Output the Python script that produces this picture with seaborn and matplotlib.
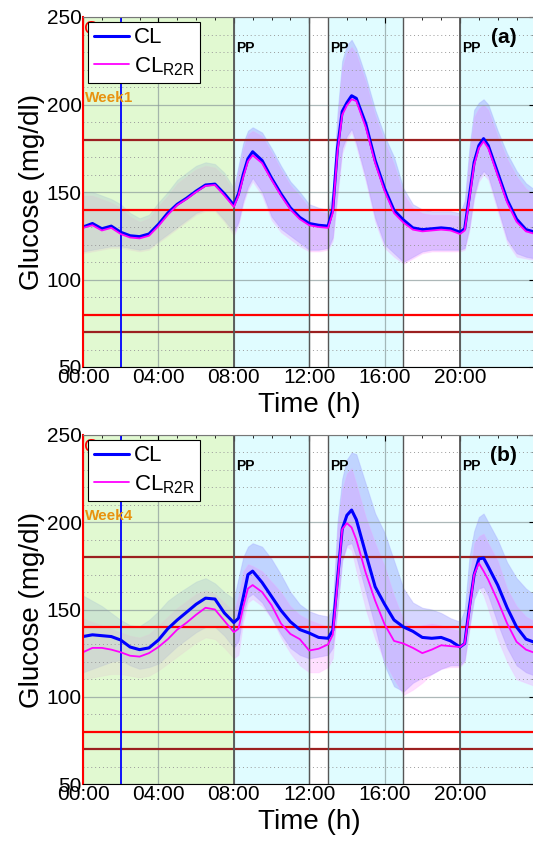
import numpy as np
import pandas as pd
import matplotlib
matplotlib.use("Agg")
import matplotlib.pyplot as plt
from matplotlib.ticker import MultipleLocator, FixedLocator
import seaborn as sns

# time grid (h)
t = [0, 0.5, 1, 1.5, 2, 2.5, 3, 3.5, 4, 4.5, 5, 5.5, 6, 6.5, 7, 7.5, 8,
     8.25, 8.5, 8.75, 9, 9.5, 10, 10.5, 11, 11.5, 12, 12.5, 13,
     13.25, 13.5, 13.75, 14, 14.25, 14.5, 15, 15.5, 16, 16.5, 17, 17.5,
     18, 18.5, 19, 19.5, 20, 20.25, 20.5, 20.75, 21, 21.25, 21.5,
     22, 22.5, 23, 23.5, 24]

# ---- panel (a) Week1 ----
a_cl = [130, 132, 129, 130.5, 127, 125, 124.5, 126, 131.5, 138, 143, 146.5, 150.5, 154, 154.5, 149, 142.5,
        149, 160, 169, 173, 168, 158, 149, 141, 135.5, 132, 131, 130.5,
        140, 175, 196, 201, 205, 203.5, 189, 168, 152, 139.5, 134, 129.5,
        128.5, 129, 129.5, 129, 127, 129, 148, 167, 176.5, 180.5, 176.5,
        161, 145.5, 134.5, 128.5, 127]
a_r2r = [129.5, 131, 128, 129.5, 126, 124, 123.5, 125, 130.5, 137, 142.5, 146, 150, 153.5, 154, 148, 141.5,
         148, 158.5, 167.5, 171, 166.5, 157, 148, 140, 134.5, 131, 130, 129.5,
         138, 173, 194, 199.5, 203, 202, 187, 166.5, 150.5, 138, 132.5, 128.5,
         127.5, 128, 128.5, 128, 126, 128, 146, 165.5, 175, 179, 175,
         159.5, 144, 133, 127.5, 126]
a_cl_hi = [150, 150, 148, 146, 143, 138, 135, 137, 144, 150, 157, 161, 165, 167, 166, 161, 152,
           165, 178, 185, 187, 184, 175, 165, 156, 150, 143, 141, 140,
           150, 195, 225, 234, 237, 232, 216, 197, 182, 170, 152, 143,
           140, 139, 139, 139, 138, 145, 175, 197, 201, 203, 200,
           185, 172, 162, 155, 151]
a_cl_lo = [116, 117, 118, 119, 119, 118, 117, 118, 122, 126, 130, 134, 138, 140, 140, 134, 127,
           133, 145, 153, 158, 150, 136, 129, 125, 121, 117, 117, 118,
           124, 150, 175, 182, 186, 178, 158, 135, 120, 115, 110, 113,
           116, 117, 117, 117, 117, 118, 130, 148, 158, 162, 159,
           141, 123, 115, 113, 112]
a_r2r_hi = [148, 148, 146, 144, 141, 136, 133, 135, 142, 148, 155, 159, 163, 165, 164, 159, 150,
            162, 175, 183, 185, 182, 173, 163, 154, 148, 141, 139, 138,
            147, 190, 221, 230, 233, 229, 213, 194, 179, 166, 149, 141,
            138, 137, 137, 137, 136, 142, 171, 193, 198, 200, 197,
            182, 169, 159, 152, 148]
a_r2r_lo = [115, 116, 117, 118, 118, 117, 116, 117, 121, 125, 129, 133, 137, 139, 139, 133, 125,
            131, 143, 151, 156, 148, 134, 127, 123, 119, 116, 116, 117,
            122, 147, 172, 180, 184, 176, 156, 133, 118, 113, 109, 112,
            115, 116, 116, 116, 116, 117, 128, 146, 156, 160, 157,
            139, 121, 113, 112, 111]

# ---- panel (b) Week4 ----
b_cl = [134.5, 135.5, 135, 134.5, 132.5, 128.5, 127, 128, 132.5, 139, 144, 148.5, 153, 156.5, 156, 148, 142.5,
        145, 157, 170, 172, 165.5, 157.5, 149.5, 143, 138.5, 136.5, 134, 133.5,
        138, 167, 196, 204, 207, 201.5, 182, 163, 153, 144, 140, 137.5,
        134, 133.5, 134, 132, 128.5, 130.5, 151.5, 170, 179, 179.5, 174.5,
        164, 151, 140, 133, 131]
b_r2r = [125.5, 128, 128, 127, 125.5, 123.5, 123, 125, 128.5, 133, 138.5, 142.5, 147, 151, 150, 143.5, 137,
         139, 151.5, 162, 164, 160, 152.5, 142, 136, 133, 126.5, 127.5, 130,
         135.5, 165, 196, 199.5, 197, 190, 171, 155, 141.5, 132, 130.5, 128,
         125, 127, 129.5, 129, 128.5, 130.5, 149.5, 170, 176.5, 172, 167,
         155, 142, 131.5, 127, 125]
b_cl_hi = [158, 155, 152, 148, 144, 141, 140.5, 144, 149, 155, 159, 162.5, 166, 168, 165, 160, 156,
           168, 180, 186, 188, 186, 179, 170, 160, 153, 149, 147, 146,
           151, 200, 225, 236, 240, 239, 222, 205, 194, 178, 162, 154,
           151, 150, 148, 145, 143, 150, 180, 195, 203, 205, 200,
           190, 177, 168, 162, 158]
b_cl_lo = [114, 116, 118, 120, 121, 118, 116, 117, 119, 124, 129, 133, 137, 140, 140, 135, 128,
           132, 148, 157, 159, 154, 145, 136, 128, 124, 122, 123, 124,
           128, 150, 178, 187, 188, 180, 160, 140, 118, 106, 103, 108,
           111, 113, 116, 118, 118, 121, 140, 156, 162, 163, 158,
           142, 128, 118, 114, 112]
b_r2r_hi = [145, 143, 141, 139, 137, 135, 134, 136, 141, 146, 151, 155, 159, 161, 159, 154, 149,
            158, 172, 176, 175, 172, 166, 160, 152, 147, 144, 142, 140,
            150, 196, 219, 228, 231, 222, 203, 188, 175, 158, 144, 140,
            141, 142, 141, 139, 138, 142, 168, 188, 192, 193.5, 188,
            178, 162, 152, 146, 143]
b_r2r_lo = [110, 111, 112, 113, 113, 112, 111, 112, 115, 119, 123, 127, 131, 134, 133, 128, 122,
            124, 143, 154, 156, 152, 145, 134, 125, 118, 114, 114, 117,
            122, 150, 178, 186, 184, 172, 150, 133, 120, 110, 101, 104,
            108, 113, 116, 117, 117, 120, 138, 158, 163, 158, 150,
            133, 120, 110, 108, 106]

hour_ticks = [0, 4, 8, 12, 16, 20]
hour_labels = ['00:00', '04:00', '08:00', '12:00', '16:00', '20:00']
pp_hours = [8.1, 13.1, 20.1]
meal_lines = [8, 12, 13, 17, 20]

sns.set_style('white')
plt.rcParams['font.family'] = ['Liberation Sans', 'DejaVu Sans']
plt.rcParams['mathtext.default'] = 'regular'
plt.rcParams['text.color'] = 'black'
plt.rcParams['axes.labelcolor'] = 'black'
plt.rcParams['xtick.color'] = 'black'
plt.rcParams['ytick.color'] = 'black'

fig = plt.figure(figsize=(5.33, 8.42), dpi=100)
W = 452.4 / 533
ax_a = fig.add_axes([83 / 533, 1 - 367 / 842, W, 350 / 842])
ax_b = fig.add_axes([83 / 533, 1 - 784 / 842, W, 349 / 842])


def draw_panel(ax, cl, r2r, cl_lo, cl_hi, r2r_lo, r2r_hi, week, tag):
    # background periods
    ax.axvspan(8, 12, color='#e0fcff', lw=0, zorder=0)
    ax.axvspan(13, 17, color='#e0fcff', lw=0, zorder=0)
    ax.axvspan(20, 24, color='#e0fcff', lw=0, zorder=0)

    # spread bands
    ax.fill_between(t, cl_lo, cl_hi, color='#7878ff', alpha=0.3, lw=0.8,
                    edgecolor='#a0a0ff', zorder=1)
    ax.fill_between(t, r2r_lo, r2r_hi, color='#ff50ff', alpha=0.18, lw=0.8,
                    edgecolor='#ffa0ff', zorder=1.1)
    # night
    ax.axvspan(0, 8, color='#c5f5a5', alpha=0.5, lw=0, zorder=1.5)

    # thresholds
    for y, c in [(180, '#9b2020'), (70, '#9b2020'), (140, '#ff0000'), (80, '#ff0000')]:
        ax.axhline(y, color=c, lw=1.6, zorder=2.6)
    for x in meal_lines:
        ax.axvline(x, color='#555555', lw=1.3 if x in (8, 20) else 1.0, zorder=2.6)
    ax.axvline(2, color='#0000ff', lw=1.3, zorder=2.7)

    df = pd.DataFrame({'t': t, 'cl': cl, 'r2r': r2r})
    sns.lineplot(data=df, x='t', y='cl', color='#0000ff', lw=2.2, ax=ax,
                 label='CL', zorder=3)
    sns.lineplot(data=df, x='t', y='r2r', color='#ff00ff', lw=1.3, ax=ax,
                 label='$CL_{R2R}$', zorder=3.1)

    ax.set_xlim(0, 24)
    ax.set_ylim(50, 250)
    ax.xaxis.set_major_locator(FixedLocator(hour_ticks))
    ax.set_xticklabels(hour_labels)
    ax.xaxis.set_minor_locator(MultipleLocator(1))
    ax.yaxis.set_major_locator(MultipleLocator(50))
    ax.yaxis.set_minor_locator(MultipleLocator(10))
    ax.set_axisbelow(False)
    ax.grid(which='major', color='#8a9a9a', lw=0.9, alpha=0.7)
    ax.grid(which='minor', axis='y', color='#999999', lw=0.7, ls=(0, (1, 3)))
    ax.tick_params(which='both', direction='in', top=True, right=True,
                   labelsize=15, pad=1)
    ax.tick_params(which='major', length=4)
    ax.tick_params(which='minor', length=2.5)
    for s in ax.spines.values():
        s.set_zorder(4)
    ax.spines['left'].set_color('#ff0000')
    ax.spines['left'].set_linewidth(1.5)
    ax.spines['bottom'].set_color('black')
    ax.spines['top'].set_color('#777777')

    ax.set_xlabel('Time (h)', fontsize=20, labelpad=3)
    ax.set_ylabel('Glucose (mg/dl)', fontsize=20, labelpad=1)

    ax.text(0.05, 243, 'C', color='#ff0000', fontsize=14, va='center', zorder=4)
    ax.text(0.08, 203.5, week, color='#e8920f', fontsize=11, fontweight='bold',
            va='center', zorder=4)
    for h in pp_hours:
        ax.text(h, 232.5, 'PP', fontsize=10, fontweight='bold', va='center', zorder=4)
    ax.text(22.33, 238.5, tag, fontsize=15, fontweight='bold', ha='center',
            va='center', zorder=4)

    leg = ax.legend(loc='upper left', bbox_to_anchor=(0.011, 0.986), borderaxespad=0,
                    fontsize=16, frameon=True, fancybox=False, framealpha=1,
                    edgecolor='black', handlelength=1.6, handletextpad=0.2,
                    borderpad=0.25, labelspacing=0.3)
    leg.get_frame().set_linewidth(0.8)
    leg.set_zorder(5)


draw_panel(ax_a, a_cl, a_r2r, a_cl_lo, a_cl_hi, a_r2r_lo, a_r2r_hi, 'Week1', '(a)')
draw_panel(ax_b, b_cl, b_r2r, b_cl_lo, b_cl_hi, b_r2r_lo, b_r2r_hi, 'Week4', '(b)')

fig.savefig('out.png', dpi=100, facecolor='white')
